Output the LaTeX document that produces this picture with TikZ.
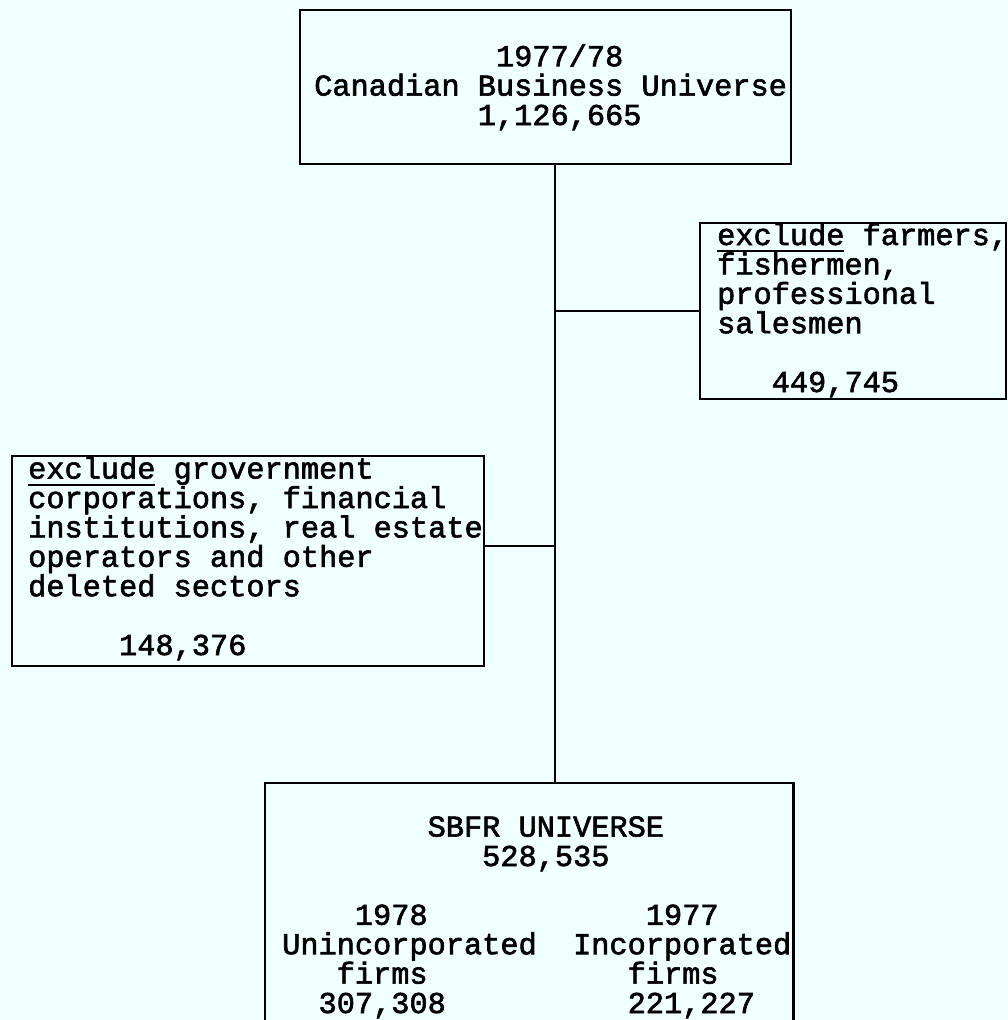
\documentclass[tikz,border=0pt]{standalone}
\usepackage{fontspec}
\setmainfont{Liberation Mono}[FakeBold=2]
\definecolor{paper}{RGB}{240,255,255}
\newcommand{\pad}[1]{\hspace*{#1\fontcharwd\font`0}}
\newcommand{\undl}[1]{\setbox0\hbox{#1}\rlap{\rule[-7pt]{\wd0}{2pt}}#1}

\begin{document}
\frenchspacing
\begin{tikzpicture}[x=1pt, y=-1pt, line width=2.4pt,
  box/.style={draw, inner sep=0pt, anchor=north west},
  txt/.style={inner sep=0pt, anchor=base west, align=left, font=\fontsize{30.3pt}{29.4pt}\selectfont}]
\fill[paper] (0,0) rectangle (1008,1020);
\useasboundingbox (0,0) rectangle (1008,1020);
\coordinate (trunk) at (555,0);
% boxes
\node[box, minimum width=491pt, minimum height=154pt] (universe) at (299,9) {};
\node[box, minimum width=306pt, minimum height=176pt] (farmers) at (699,222) {};
\node[box, minimum width=472pt, minimum height=210pt] (govt) at (11,455) {};
\node[box, draw=none, minimum width=526pt, minimum height=235pt] (sbfr) at (265,783) {};
\draw (sbfr.south west) -- (sbfr.north west) -- (sbfr.north east) -- (sbfr.south east);
\draw[gray!55, line width=1.6pt, dash pattern=on 16pt off 12pt] (sbfr.south west) -- (sbfr.south east);
% texts (placed at the baseline of their last line)
\node[txt] (universetxt) at (313,125) {\pad{10}1977/78\\Canadian Business Universe\\\pad{9}1,126,665};
\node[txt] (farmerstxt) at (716,392) {\undl{exclude} farmers,\\fishermen,\\professional\\salesmen\\[29.4pt]\pad{3}449,745};
\node[txt] (govttxt) at (27,655) {\undl{exclude} grovernment\\corporations, financial\\institutions, real estate\\operators and other\\deleted sectors\\[29.4pt]\pad{5}148,376};
\node[txt] (sbfrtxt) at (281,1013) {\pad{8}SBFR UNIVERSE\\\pad{11}528,535\\[29.4pt]\pad{4}1978\pad{12}1977\\Unincorporated\pad{2}Incorporated\\\pad{3}firms\pad{11}firms\\\pad{2}307,308\pad{10}221,227};
% connectors
\draw (universe.south -| trunk) -- (sbfr.north -| trunk);
\draw (farmers.west) -- (farmers.west -| trunk);
\draw (govt.north east) ++(0,91) coordinate (govtjoin) -- (govtjoin -| trunk);
\end{tikzpicture}
\end{document}
